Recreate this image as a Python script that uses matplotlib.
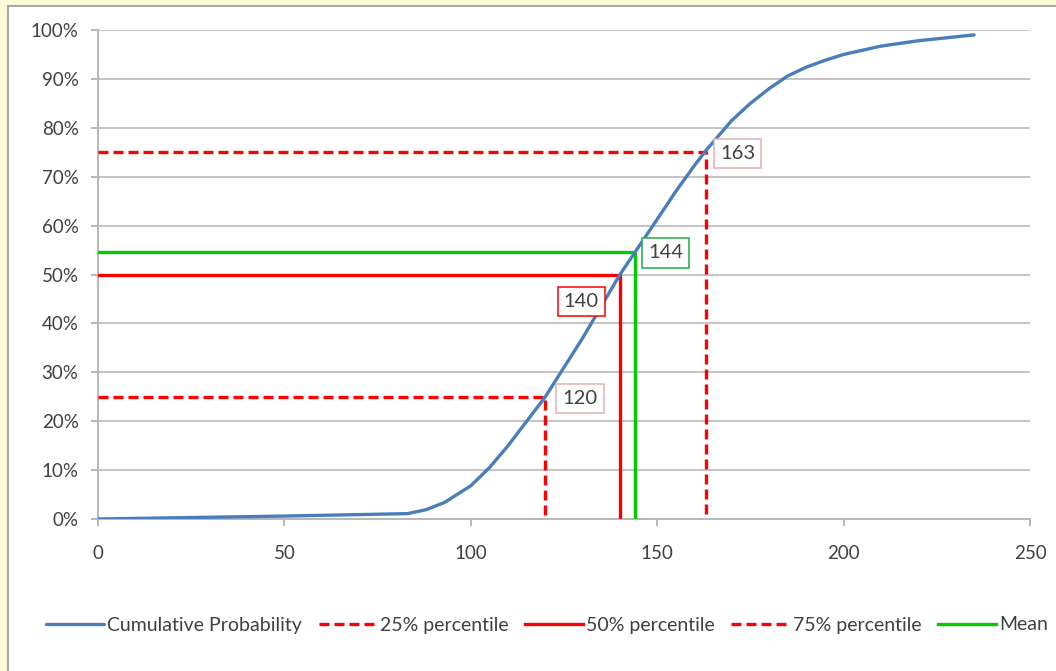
import matplotlib
matplotlib.use("Agg")
import matplotlib.pyplot as plt
from matplotlib.patches import Rectangle
from matplotlib.ticker import PercentFormatter

# ---- data ----
x_vals = [0, 50, 83, 88, 93, 100, 105, 110, 115, 120, 125, 130, 135, 140, 144,
          150, 155, 160, 163, 170, 175, 180, 185, 190, 195, 200, 210, 220, 235]
cum_prob = [0.0, 0.6, 1.1, 1.9, 3.4, 6.8, 10.5, 15.0, 20.0, 25.0, 31.0, 37.0, 43.5, 50.0, 54.5,
            61.3, 67.0, 72.3, 75.3, 81.5, 85.0, 88.0, 90.6, 92.4, 93.8, 95.0, 96.7, 97.8, 99.0]

p25_x, p25_y = 120, 25
p50_x, p50_y = 140, 50
p75_x, p75_y = 163, 75
mean_x, mean_y = 144, 54.5

x_ticks = [0, 50, 100, 150, 200, 250]
y_ticks = [0, 10, 20, 30, 40, 50, 60, 70, 80, 90, 100]

legend_labels = ["Cumulative Probability", "25% percentile", "50% percentile",
                 "75% percentile", "Mean"]

# ---- style ----
plt.rcParams['font.family'] = ['Lato', 'DejaVu Sans']
BLUE = '#4A7EBB'
RED = '#FF0000'
GREEN = '#00CC00'
TXT = '#404040'

fig = plt.figure(figsize=(10.56, 6.71), dpi=100, facecolor='#FFFBD6')
fig.patches.append(Rectangle((8 / 1056, -0.2), 1.2, 0.2 + (1 - 6 / 671),
                             transform=fig.transFigure, facecolor='white',
                             edgecolor='#A8A8A8', lw=1.5, zorder=-5))

ax = fig.add_axes([98 / 1056, 1 - 519 / 671, (1030 - 98) / 1056, (519 - 30) / 671])
ax.set_facecolor('white')

lw = 2.4
dash = (3.0, 1.5)

ax.plot(x_vals, cum_prob, color=BLUE, lw=lw, zorder=5, solid_capstyle='round',
        solid_joinstyle='round', label=legend_labels[0])

ax.plot([0, p25_x, p25_x], [p25_y, p25_y, 0], color=RED, lw=lw, ls=(0, dash),
        zorder=4, label=legend_labels[1])
ax.plot([0, p50_x, p50_x], [p50_y, p50_y, 0], color=RED, lw=lw, zorder=4,
        label=legend_labels[2])
ax.plot([0, p75_x, p75_x], [p75_y, p75_y, 0], color=RED, lw=lw, ls=(0, dash),
        zorder=4, label=legend_labels[3])
ax.plot([0, mean_x, mean_x], [mean_y, mean_y, 0], color=GREEN, lw=lw, zorder=4,
        label=legend_labels[4])

# value labels
def vlabel(x, y, text, ec):
    ax.text(x, y, text, ha='center', va='center', fontsize=14.5, color=TXT, zorder=6,
            bbox=dict(boxstyle='square,pad=0.3', fc='white', ec=ec, lw=1.1))

vlabel(p25_x + 9.3, p25_y - 0.3, str(p25_x), '#E6B0B0')
vlabel(p50_x - 10.4, p50_y - 5.6, str(p50_x), RED)
vlabel(mean_x + 8.3, mean_y - 0.1, str(mean_x), '#22AA44')
vlabel(p75_x + 8.6, p75_y - 0.2, str(p75_x), '#E6B0B0')

ax.set_xlim(0, 250)
ax.set_ylim(0, 100)
ax.set_xticks(x_ticks)
ax.set_yticks(y_ticks)
ax.yaxis.set_major_formatter(PercentFormatter(decimals=0))
ax.grid(axis='y', color='#C4C4C4', lw=1.4, zorder=1)
ax.set_axisbelow(True)
for s in ['top', 'right']:
    ax.spines[s].set_visible(False)
for s in ['left', 'bottom']:
    ax.spines[s].set_color('#B8B8B8')
    ax.spines[s].set_linewidth(1.4)
ax.tick_params(axis='both', colors='#B8B8B8', labelcolor=TXT, labelsize=13.5,
               width=1.4, length=5)
ax.tick_params(axis='x', pad=14)
ax.tick_params(axis='y', pad=9)

fig.legend(loc='center', bbox_to_anchor=(547 / 1056, 1 - 625 / 671), ncol=5,
           frameon=False, fontsize=14, handlelength=3.0, handletextpad=0.15,
           columnspacing=0.85, labelcolor=TXT)

fig.savefig('out.png', dpi=100, facecolor=fig.get_facecolor())
